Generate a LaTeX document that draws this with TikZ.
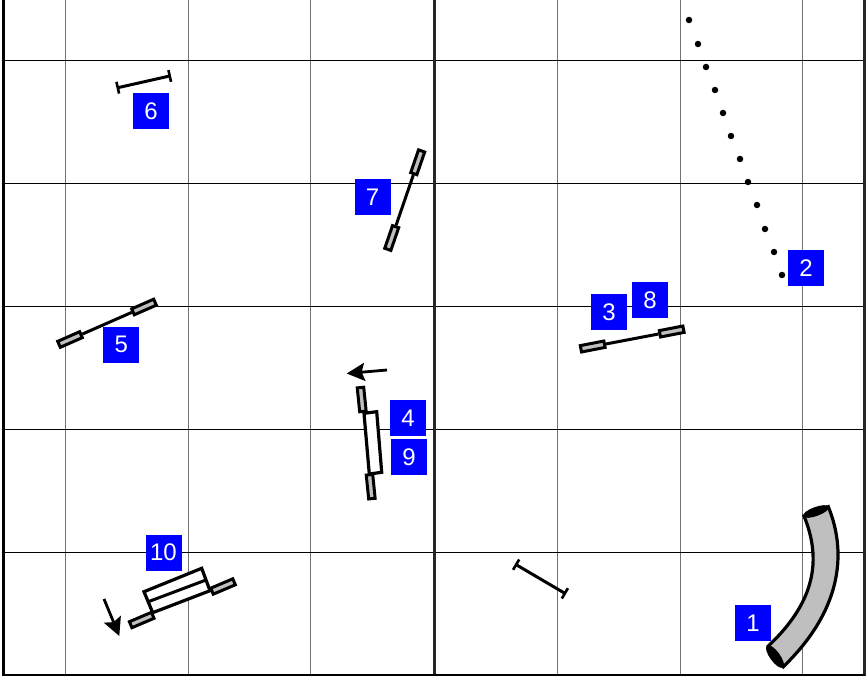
\documentclass[tikz,border=0pt]{standalone}
\usepackage{fontspec}
\setmainfont{Liberation Sans}
\usetikzlibrary{arrows.meta,shapes.geometric}
\tikzset{
  gridv/.style={draw=black!55,line width=1pt},
  gridh/.style={draw=black,line width=1pt},
  gridmain/.style={draw=black!85,line width=3pt},
  numbox/.style={fill=blue,text=white,minimum size=36pt,inner sep=0pt,font=\fontsize{24}{26}\selectfont},
  wing/.style={draw=black,fill=black!25,line width=3pt,minimum width=24pt,minimum height=6.5pt,inner sep=0pt},
  pole/.style={draw=black,line width=3pt},
  tire/.style={draw=black,line width=3.2pt,fill=white,line join=miter},
  bar/.style={draw=black,line width=3pt,{Bar[width=12pt,line width=2.6pt]}-{Bar[width=12pt,line width=2.6pt]}},
  mover/.style={draw=black,line width=2.8pt,-{Stealth[length=18pt,width=18pt,inset=3pt]}},
  weave/.style={fill=black,circle,inner sep=0pt,minimum size=6.5pt},
  tunnel/.style={draw=black,fill=black!25,line width=3.2pt},
  tunnelend/.style={fill=black,draw=black,line width=1pt,ellipse,inner sep=0pt}
}
\begin{document}
\begin{tikzpicture}[x=1pt,y=-1pt]
\useasboundingbox (0,0) rectangle (867,676);
% grid
\foreach \gx in {65,188,310,557,680,802} \draw[gridv] (\gx,0) -- (\gx,676);
\foreach \gy in {60.5,183.5,306.3,429.3,552.3} \draw[gridh] (4,\gy) -- (864,\gy);
\draw[gridmain] (434,0) -- (434,676);
\draw[gridmain,line width=2.4pt,draw=black] (3.5,0) -- (3.5,676);
\draw[gridmain,line width=2.4pt,draw=black!85] (864.5,0) -- (864.5,676);
\draw[gridh,line width=1.8pt] (3,675.2) -- (865,675.2);
% weave poles
\foreach \wx/\wy [count=\wi] in {689/20,698/44,706/67,715/90,723/113,731/136,740/159,748/182,757/205,765/229,774/252,782/275}
  \node[weave] (w\wi) at (\wx,\wy) {};
% jump 3-8
\node[wing,rotate=11] (j3a) at (592.7,346.5) {};
\node[wing,rotate=11] (j3b) at (671.7,331.5) {};
\draw[pole] (j3a) -- (j3b);
% jump 5
\node[wing,rotate=23.7] (j5a) at (70,339.5) {};
\node[wing,rotate=23.7] (j5b) at (144,307) {};
\draw[pole] (j5a) -- (j5b);
% jump 7
\node[wing,rotate=71] (j7a) at (391.7,238) {};
\node[wing,rotate=71] (j7b) at (417.7,162.3) {};
\draw[pole] (j7a) -- (j7b);
% double 4-9
\node[wing,rotate=-84.2] (j4a) at (361.7,399.5) {};
\node[wing,rotate=-84.2] (j4b) at (370.7,486.7) {};
\draw[tire] (364,413.3) -- (376.7,411.7) -- (381.7,472.3) -- (369.3,474) -- cycle;
\coordinate (m4) at (387,370);
\coordinate (t4) at (346.7,373.5);
\draw[mover] (m4) -- (t4);
% spread 10
\node[wing,rotate=23] (j10a) at (141.7,620) {};
\node[wing,rotate=23] (j10b) at (223,586.5) {};
\draw[tire] (144,591.7) -- (201.7,568.3) -- (210,590.7) -- (152.7,612.7) -- cycle;
\draw[pole] (148.3,601.7) -- (206,580);
\coordinate (m10) at (104,599);
\coordinate (t10) at (119.3,636);
\draw[mover] (m10) -- (t10);
% bars
\coordinate (b6a) at (116.5,88);
\coordinate (b6b) at (171,75.7);
\draw[bar] (b6a) -- (b6b);
\coordinate (bxa) at (515,564);
\coordinate (bxb) at (566,594);
\draw[bar] (bxa) -- (bxb);
% tunnel
\draw[tunnel] (828.3,506.7) .. controls (848,555) and (840,612) .. (783.3,666.7)
  -- (768.3,646) .. controls (815,602) and (822,560) .. (804,516) -- cycle;
\node[tunnelend,minimum width=26pt,minimum height=8pt,rotate=20] (e1) at (816,511.5) {};
\node[tunnelend,minimum width=26pt,minimum height=9pt,rotate=-54] (e2) at (775,656.5) {};
% labels
\node[numbox] (n1) at (753,623) {1};
\node[numbox] (n2) at (806,268.5) {2};
\node[numbox] (n3) at (609,312) {3};
\node[numbox] (n8) at (650,300) {8};
\node[numbox] (n4) at (408,418) {4};
\node[numbox] (n9) at (409,457.3) {9};
\node[numbox] (n5) at (121.3,344.7) {5};
\node[numbox] (n6) at (151,111) {6};
\node[numbox] (n7) at (372.5,197) {7};
\node[numbox] (n10) at (163.5,552.5) {10};
\end{tikzpicture}
\end{document}
